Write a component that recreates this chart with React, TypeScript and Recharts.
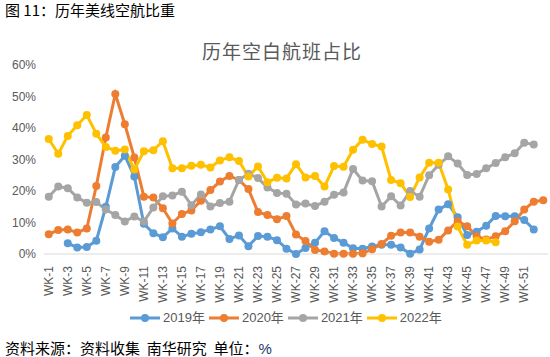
import React from 'react';
import { LineChart, Line, XAxis, YAxis } from 'recharts';

// week categories; 2020 had a 53rd week, which carries no label in the source
const weeks = [
  'WK-1', 'WK-2', 'WK-3', 'WK-4', 'WK-5', 'WK-6', 'WK-7', 'WK-8', 'WK-9', 'WK-10',
  'WK-11', 'WK-12', 'WK-13', 'WK-14', 'WK-15', 'WK-16', 'WK-17', 'WK-18', 'WK-19', 'WK-20',
  'WK-21', 'WK-22', 'WK-23', 'WK-24', 'WK-25', 'WK-26', 'WK-27', 'WK-28', 'WK-29', 'WK-30',
  'WK-31', 'WK-32', 'WK-33', 'WK-34', 'WK-35', 'WK-36', 'WK-37', 'WK-38', 'WK-39', 'WK-40',
  'WK-41', 'WK-42', 'WK-43', 'WK-44', 'WK-45', 'WK-46', 'WK-47', 'WK-48', 'WK-49', 'WK-50',
  'WK-51', 'WK-52', '',
];

const s2019 = [
  null, null, 3.4, 2.1, 2.2, 4.2, 15, 27.6, 31.2, 24.6,
  9.6, 6.6, 5.3, 8.1, 5.5, 6.4, 6.9, 7.8, 8.8, 4.8,
  5.9, 2.5, 5.7, 5.5, 4.4, 1.7, 0, 1.9, 3.6, 7.2,
  5.1, 3.6, 1.8, 1.7, 2.4, 2.9, 2.9, 2.1, 0.1, 1.4,
  8.1, 14.1, 15.8, 11.7, 6.0, 7.1, 9.0, 12.1, 12.0, 12.0,
  10.8, 7.8, null,
];

const s2020 = [
  6.3, 7.6, 7.8, 6.8, 8.1, 21.6, 37.0, 50.8, 41.2, 30.6,
  18.2, 17.9, 14.5, 9.7, 12.7, 13.8, 16.9, 20.3, 23.0, 24.8,
  23.5, 20.6, 13.3, 12.4, 11.0, 12.1, 6.2, 4.1, 1.3, 0.8,
  0.1, 0.1, 0.1, 0.2, 1.5, 3.2, 5.8, 6.8, 6.8, 5.5,
  3.9, 4.5, 7.5, 10.4, 8.8, 5.6, 4.6, 5.6, 7.2, 10.4,
  14.1, 16.6, 17.1,
];

const s2021 = [
  18.2, 21.4, 20.9, 17.9, 16.3, 16.5, 14.1, 12.4, 10.3, 11.9,
  10.3, 14.8, 18.3, 18.6, 19.8, 15.5, 18.9, 15.1, 16.2, 16.6,
  23.5, 25.5, 24.1, 21.1, 19.4, 19.1, 15.7, 16.0, 15.2, 16.6,
  18.8, 19.5, 27.0, 23.3, 23.1, 15.1, 18.3, 15.4, 20.0, 18.2,
  25.0, 28.3, 31.0, 28.7, 25.1, 25.4, 27.2, 28.9, 30.7, 32.0,
  35.3, 34.8, null,
];

const s2022 = [
  36.5, 31.8, 37.5, 40.9, 44.1, 38.2, 34.0, 32.8, 33.2, 26.8,
  32.6, 32.9, 35.8, 27.2, 27.2, 28.0, 28.3, 27.5, 29.7, 30.7,
  29.5, 24.6, 27.8, 22.8, 24.2, 24.0, 28.5, 24.3, 24.8, 21.4,
  27.9, 27.7, 33.1, 36.3, 34.9, 34.1, 23.5, 22.5, 18.1, 24.3,
  29.0, 29.0, 20.5, 8.7, 2.9, 4.3, 4.3, 3.7, null, null,
  null, null, null,
];

const yTicks = [0, 10, 20, 30, 40, 50, 60];

const series = [
  { key: 'y2019', name: '2019年', color: '#5B9BD5' },
  { key: 'y2020', name: '2020年', color: '#ED7D31' },
  { key: 'y2021', name: '2021年', color: '#A5A5A5' },
  { key: 'y2022', name: '2022年', color: '#FFC000' },
];

const data = weeks.map((wk, i) => ({
  wk,
  y2019: s2019[i],
  y2020: s2020[i],
  y2021: s2021[i],
  y2022: s2022[i],
}));

const cjk = '"Noto Sans CJK SC", "Noto Sans", sans-serif';
const latin = '"Liberation Sans", Arial, sans-serif';

const WeekTick = ({ x, y, payload }: any) => (
  <text
    x={x}
    y={y}
    transform={`rotate(-90, ${x}, ${y})`}
    textAnchor="end"
    dy="0.35em"
    fill="#595959"
    fontSize={12}
    fontFamily={latin}
  >
    {payload.value}
  </text>
);

const LegendRow = () => (
  <div style={{ position: 'absolute', top: 309, left: 130, display: 'flex', alignItems: 'center' }}>
    {series.map((s) => (
      <div key={s.key} style={{ display: 'flex', alignItems: 'center', marginRight: 4 }}>
        <svg width={30} height={16}>
          <line x1={0} y1={8} x2={30} y2={8} stroke={s.color} strokeWidth={3} />
          <circle cx={15} cy={8} r={4} fill={s.color} />
        </svg>
        <span style={{ marginLeft: 3, fontSize: 13, color: '#595959', fontFamily: latin, lineHeight: '16px' }}>
          {s.name.slice(0, 4)}
          <span style={{ fontFamily: cjk }}>{s.name.slice(4)}</span>
        </span>
      </div>
    ))}
  </div>
);

export default function App() {
  return (
    <div style={{ position: 'absolute', left: 0, top: 0, width: 550, height: 357, background: '#fff', overflow: 'hidden' }}>
      <div style={{ position: 'absolute', left: 5, top: 0, fontSize: 15, lineHeight: '20px', fontFamily: cjk, color: '#000', whiteSpace: 'nowrap' }}>
        图 11：历年美线空航比重
      </div>
      <div
        style={{
          position: 'absolute',
          left: 0,
          width: 564,
          top: 39,
          textAlign: 'center',
          fontSize: 19,
          letterSpacing: 1,
          lineHeight: '24px',
          fontFamily: cjk,
          color: '#595959',
        }}
      >
        历年空白航班占比
      </div>
      <LineChart
        width={550}
        height={310}
        data={data}
        margin={{ top: 65, right: 2, left: 0, bottom: 0 }}
        style={{ position: 'absolute', left: 0, top: 0 }}
      >
        <XAxis
          dataKey="wk"
          interval={1}
          height={56}
          padding={{ left: 4.75, right: 4.75 }}
          axisLine={{ stroke: '#D9D9D9' }}
          tickLine={false}
          tickMargin={6}
          tick={<WeekTick />}
        />
        <YAxis
          width={44}
          domain={[0, 60]}
          ticks={yTicks}
          axisLine={false}
          tickLine={false}
          tickFormatter={(v) => `${v}%`}
          tick={{ fill: '#595959', fontSize: 12, fontFamily: latin }}
        />
        {series.map((s) => (
          <Line
            key={s.key}
            dataKey={s.key}
            name={s.name}
            stroke={s.color}
            strokeWidth={3}
            dot={{ r: 4, fill: s.color, stroke: s.color, strokeWidth: 0 }}
            activeDot={false}
            isAnimationActive={false}
          />
        ))}
      </LineChart>
      <LegendRow />
      <div
        style={{
          position: 'absolute',
          left: 5,
          top: 339,
          fontSize: 15,
          lineHeight: '18px',
          fontFamily: cjk,
          color: '#000',
          whiteSpace: 'pre',
        }}
      >
        {'资料来源：资料收集  南华研究  单位：'}
        <span style={{ color: '#1F3864', fontFamily: latin }}>%</span>
      </div>
    </div>
  );
}
